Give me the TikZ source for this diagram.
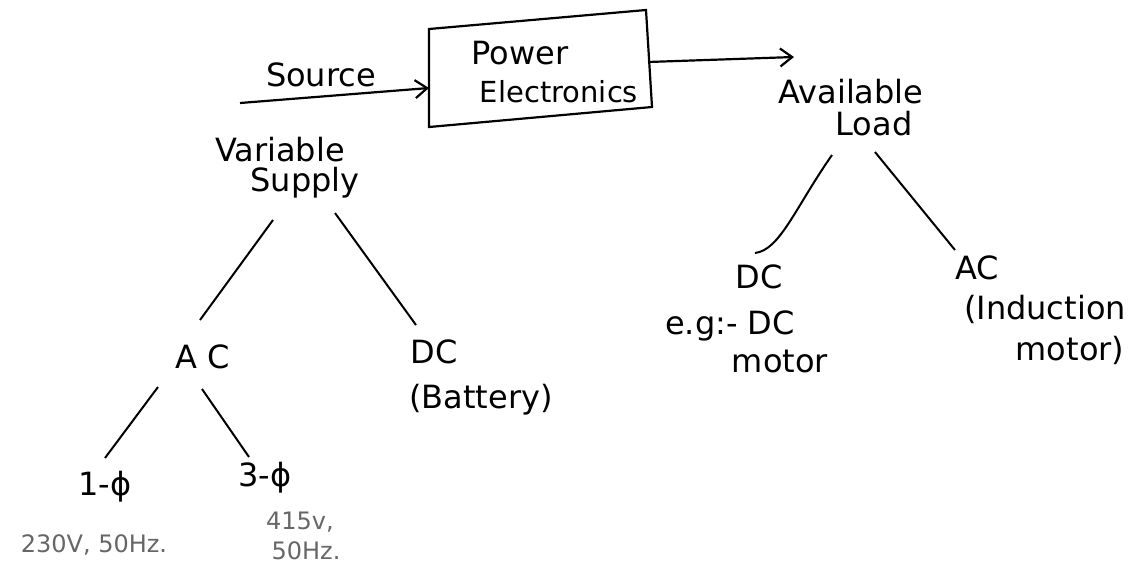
\documentclass[tikz,border=0pt]{standalone}
\usepackage{fontspec}
\setmainfont{DejaVu Sans}
\usetikzlibrary{arrows.meta}
\begin{document}
\begin{tikzpicture}[x=0.5pt,y=-0.5pt,
  lbl/.style={inner sep=0pt,font=\fontsize{16}{18}\selectfont},
  sml/.style={inner sep=0pt,font=\fontsize{12}{14}\selectfont,text=black!60},
  ln/.style={line width=1pt},
  arr/.style={line width=1.1pt,-{Straight Barb[length=6pt,width=9pt]}}]
\useasboundingbox (0,0) rectangle (1141,569);
% box (hand-drawn, slightly skewed)
\coordinate (b1) at (429,29);
\coordinate (b2) at (646,10);
\coordinate (b3) at (652,107);
\coordinate (b4) at (429,127);
\draw[line width=1.1pt] (b1) -- (b2) -- (b3) -- (b4) -- cycle;
\coordinate (bin) at (429,88);
\coordinate (bout) at (648,62);
\node[lbl] (pw) at (520,53) {Power};
\node[lbl,font=\fontsize{14.5}{16}\selectfont] (el) at (559,92) {Electronics};
\coordinate (s0) at (240,103);
\node[lbl] (src) at (321,75) {Source};
\draw[arr] (s0) -- (bin);
\coordinate (o1) at (794,57);
\draw[arr] (bout) -- (o1);
\node[lbl] (av) at (851,92) {Available};
\node[lbl] (ld) at (874,124) {Load};
\node[lbl] (var) at (280,150) {Variable};
\node[lbl] (sup) at (305,183) {Supply};
\node[lbl] (ac) at (203,357) {A C};
\node[lbl] (dc) at (434,352) {DC};
\node[lbl] (bat) at (481,400) {(Battery)};
\draw[ln] (273,220) -- (200,320);
\draw[ln] (335,213) -- (416,325);
\node[lbl] (p1) at (105,487) {1-ϕ};
\node[lbl] (p3) at (265,478) {3-ϕ};
\draw[ln] (158,387) -- (105,458);
\draw[ln] (202,389) -- (249,457);
\node[sml] (v1) at (94,545) {230V, 50Hz.};
\node[sml] (v3) at (300,522) {415v,};
\node[sml] (f3) at (306,551) {50Hz.};
\draw[ln] (832,155) .. controls (795,208) and (780,250) .. (755,253);
\draw[ln] (875,152) -- (955,250);
\node[lbl] (ldc) at (759,277) {DC};
\node[lbl] (lac) at (977,268) {AC};
\node[lbl] (eg) at (730,326) {e.g:- DC};
\node[lbl] (m1) at (780,361) {motor};
\node[lbl] (ind) at (1045,309) {(Induction};
\node[lbl] (m2) at (1070,350) {motor)};
\end{tikzpicture}
\end{document}
